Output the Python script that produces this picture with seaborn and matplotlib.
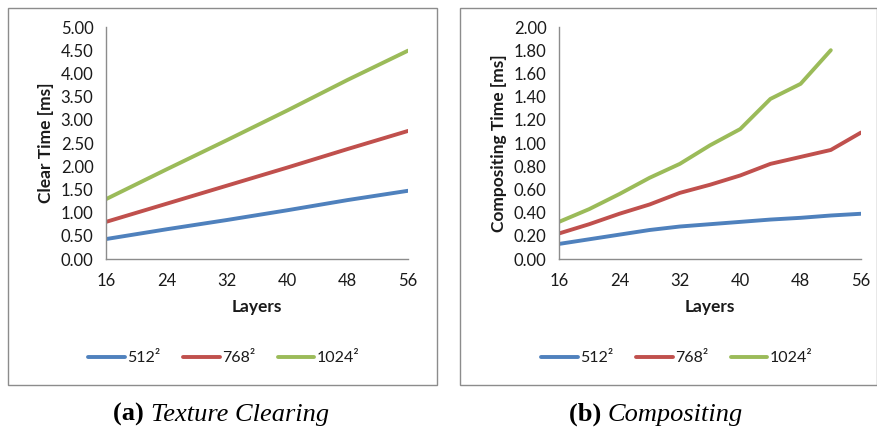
import matplotlib
matplotlib.use("Agg")
import matplotlib.pyplot as plt
import matplotlib.patches as mpatches
import numpy as np
import pandas as pd
import seaborn as sns

# Layer counts and timings
layers_clear = [16, 24, 32, 40, 48, 56]
clear_512 = [0.43, 0.64, 0.84, 1.05, 1.27, 1.47]
clear_768 = [0.80, 1.19, 1.58, 1.97, 2.37, 2.76]
clear_1024 = [1.29, 1.93, 2.56, 3.20, 3.86, 4.49]

layers_comp = [16, 20, 24, 28, 32, 36, 40, 44, 48, 52, 56]
comp_512 = [0.13, 0.17, 0.21, 0.25, 0.28, 0.30, 0.32, 0.34, 0.355, 0.375, 0.39]
comp_768 = [0.22, 0.30, 0.39, 0.47, 0.57, 0.64, 0.72, 0.82, 0.88, 0.94, 1.09]
comp_1024 = [0.32, 0.43, 0.56, 0.70, 0.82, 0.98, 1.12, 1.38, 1.51, 1.80, np.nan]

series_names = ["512²", "768²", "1024²"]
series_colors = ["#4F81BD", "#C0504D", "#9BBB59"]
x_ticks = [16, 24, 32, 40, 48, 56]

sns.set_theme(style="white")
plt.rcParams["font.family"] = ["Lato", "DejaVu Sans"]

def long_frame(xs, columns):
    frames = []
    for name, vals in zip(series_names, columns):
        frames.append(pd.DataFrame({"Layers": xs, "Time": vals, "Size": name}))
    return pd.concat(frames, ignore_index=True).dropna()

df_clear = long_frame(layers_clear, [clear_512, clear_768, clear_1024])
df_comp = long_frame(layers_comp, [comp_512, comp_768, comp_1024])

fig = plt.figure(figsize=(8.78, 4.32), dpi=100)

# chart-area frames
for x0, x1 in [(8, 437), (460, 877)]:
    fig.patches.append(mpatches.Rectangle(
        (x0 / 878, 1 - 385 / 432), (x1 - x0) / 878, (385 - 7.5) / 432,
        transform=fig.transFigure, fill=False, edgecolor="#8C8C8C", lw=1.0))

grey = "#8C8C8C"
text_col = "#1a1a1a"
panels = [
    (106, df_clear, "Clear Time [ms]", 5.0, 0.5, "(a)", "Texture Clearing", 221),
    (559, df_comp, "Compositing Time [ms]", 2.0, 0.2, "(b)", "Compositing", 656),
]

for left_px, df, ylabel, ymax, ystep, tag, caption, cx in panels:
    ax = fig.add_axes([left_px / 878, 1 - 259 / 432, 302 / 878, 232 / 432])
    sns.lineplot(data=df, x="Layers", y="Time", hue="Size", hue_order=series_names,
                 palette=series_colors, linewidth=2.8, ax=ax, legend=False,
                 solid_capstyle="round")
    ax.set_xlim(16, 56)
    ax.set_ylim(0, ymax)
    ax.set_xticks(x_ticks)
    ax.set_xticklabels([str(t) for t in x_ticks])
    yt = np.round(np.arange(0, ymax + ystep / 2, ystep), 2)
    ax.set_yticks(yt)
    ax.set_yticklabels([f"{v:.2f}" for v in yt])
    for s in ["top", "right"]:
        ax.spines[s].set_visible(False)
    for s in ["left", "bottom"]:
        ax.spines[s].set_color(grey)
        ax.spines[s].set_linewidth(1.0)
    ax.tick_params(axis="both", which="major", direction="out", length=4,
                   width=1.0, color=grey, labelsize=12, labelcolor=text_col)
    ax.tick_params(axis="x", pad=6)
    ax.tick_params(axis="y", pad=5)
    ax.set_xlabel("Layers", fontsize=12.5, fontweight="bold", color=text_col, labelpad=7)
    ax.set_ylabel(ylabel, fontsize=12.5, fontweight="bold", color=text_col, labelpad=5)
    ax.patch.set_alpha(0)

    handles = [plt.Line2D([], [], color=c, lw=2.8, solid_capstyle="round")
               for c in series_colors]
    ax.legend(handles, series_names, loc="center", bbox_to_anchor=(0.39, -0.427),
              ncol=3, frameon=False, fontsize=11.5, handlelength=2.3,
              handletextpad=0.15, columnspacing=1.4, labelcolor=text_col,
              borderpad=0, borderaxespad=0)

    # caption beneath the panel: bold tag followed by italic title
    renderer = fig.canvas.get_renderer()
    t1 = fig.text(0, 0, tag + " ", fontsize=19, fontweight="bold",
                  family="Liberation Serif", color="black")
    t2 = fig.text(0, 0, caption, fontsize=19, style="italic",
                  family="Liberation Serif", color="black")
    w1 = t1.get_window_extent(renderer).width
    w2 = t2.get_window_extent(renderer).width
    start = cx - (w1 + w2) / 2
    ypos = 1 - 421 / 432
    t1.set_position((start / 878, ypos))
    t2.set_position(((start + w1) / 878, ypos))

fig.savefig("out.png", dpi=100)
